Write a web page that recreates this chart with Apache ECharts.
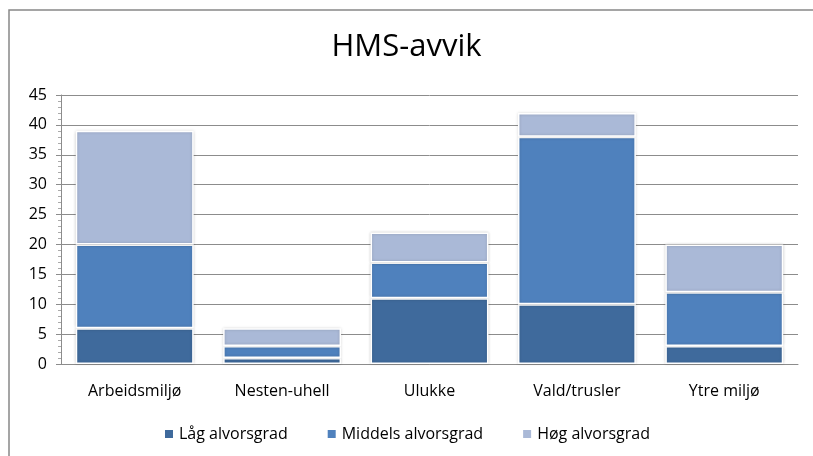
<!DOCTYPE html>
<html><head><meta charset="utf-8">
<script src="https://cdn.jsdelivr.net/npm/echarts@6/dist/echarts.min.js"></script>
<style>html,body{margin:0;padding:0;background:#fff}#c{width:813px;height:456px}</style>
</head><body><div id="c"></div>
<script>
const categories = ['Arbeidsmiljø','Nesten-uhell','Ulukke','Vald/trusler','Ytre miljø'];
const seriesNames = ['Låg alvorsgrad','Middels alvorsgrad','Høg alvorsgrad'];
const lagValues = [6, 1, 11, 10, 3];
const middelsValues = [14, 2, 6, 28, 9];
const hogValues = [19, 3, 5, 4, 8];
const colors = ['#3F6A9C','#4F81BD','#AAB9D7'];
const chart = echarts.init(document.getElementById('c'));
const font = '"Open Sans", "Noto Sans", sans-serif';
const mk = (name, data, color) => ({
  name, type: 'bar', stack: 'a', data, barWidth: '80%',
  itemStyle: { color, borderColor: '#fff', borderWidth: 1.5, shadowColor: 'rgba(0,0,0,0.18)', shadowBlur: 3 },
  emphasis: { disabled: true }
});
chart.setOption({
  animation: false,
  textStyle: { fontFamily: font },
  title: { text: 'HMS-avvik', left: 'center', top: 27, textStyle: { fontFamily: font, fontSize: 31, fontWeight: 'normal', color: '#000' } },
  graphic: [{ type: 'rect', shape: { x: 9, y: 10, width: 900, height: 500 }, style: { fill: 'none', stroke: '#888', lineWidth: 1.5 }, silent: true }],
  legend: { bottom: 9, left: 'center', itemWidth: 10, itemHeight: 10, itemGap: 38, icon: 'rect',
    textStyle: { fontFamily: font, fontSize: 16, color: '#000' }, data: seriesNames },
  grid: { left: 61, right: 15, top: 95, bottom: 92, containLabel: false },
  xAxis: { type: 'category', data: categories,
    axisLine: { lineStyle: { color: '#8c8c8c' } }, axisTick: { show: false },
    axisLabel: { fontFamily: font, fontSize: 16, color: '#000', margin: 19 } },
  yAxis: { type: 'value', min: 0, max: 45, interval: 5,
    axisLine: { show: true, lineStyle: { color: '#8c8c8c' } },
    axisTick: { show: true, length: 5, lineStyle: { color: '#8c8c8c' } },
    minorTick: { show: true, splitNumber: 5, length: 3, lineStyle: { color: '#aaa' } },
    splitLine: { lineStyle: { color: '#8c8c8c' } },
    axisLabel: { fontFamily: font, fontSize: 16, color: '#000', margin: 14 } },
  series: [mk(seriesNames[0], lagValues, colors[0]), mk(seriesNames[1], middelsValues, colors[1]), mk(seriesNames[2], hogValues, colors[2])]
});
</script></body></html>
